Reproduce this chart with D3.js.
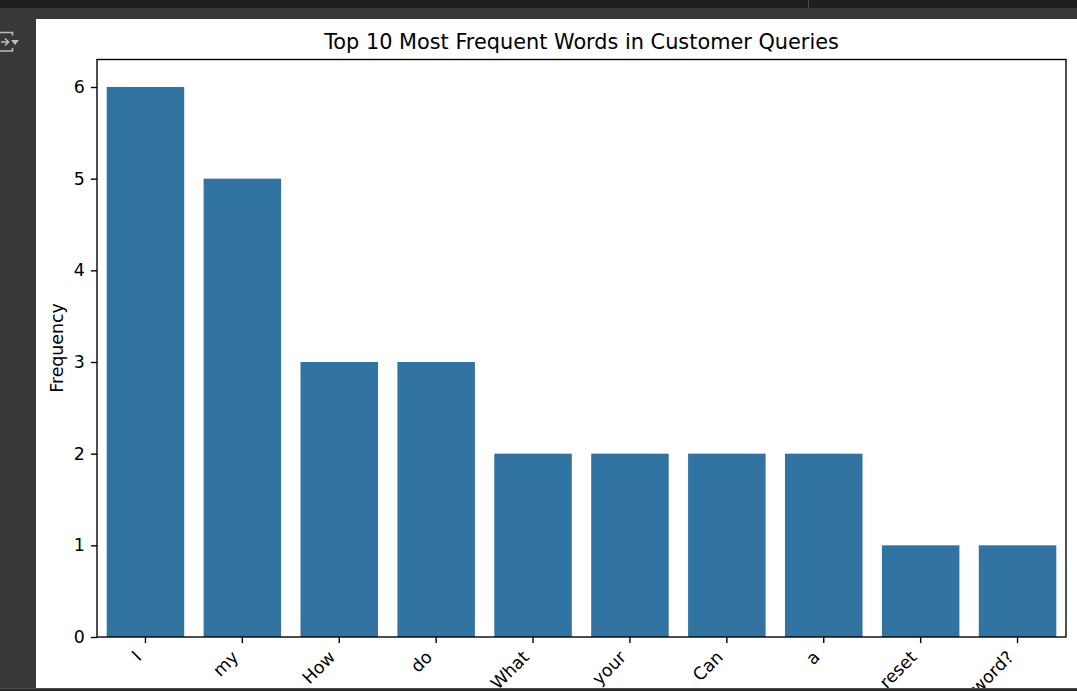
<!DOCTYPE html>
<html>
<head>
<meta charset="utf-8">
<script src="https://cdn.jsdelivr.net/npm/d3@7"></script>
<style>
  body { margin: 0; background: #383838; overflow: hidden; }
  svg { display: block; font-family: "DejaVu Sans", sans-serif; }
</style>
</head>
<body>
<svg id="chart" width="1077" height="691"></svg>
<script>
// dati
var words = ["I", "my", "How", "do", "What", "your", "Can", "a", "reset", "password?"];
var counts = [6, 5, 3, 3, 2, 2, 2, 2, 1, 1];
var yTicks = [0, 1, 2, 3, 4, 5, 6];
var titleText = "Top 10 Most Frequent Words in Customer Queries";
var yLabel = "Frequency";

var W = 1077, H = 691;
var pt = 125 / 72; // px per punto
var svg = d3.select("#chart");

// cornice scura tipo editor
svg.append("rect").attr("x", 0).attr("y", 0).attr("width", W).attr("height", H).attr("fill", "#383838");
svg.append("rect").attr("x", 0).attr("y", 0).attr("width", W).attr("height", 8).attr("fill", "#1f1f1f");
svg.append("line").attr("x1", 808.5).attr("x2", 808.5).attr("y1", 0).attr("y2", 8)
  .attr("stroke", "#4a4a4a").attr("stroke-width", 1);
svg.append("rect").attr("x", 0).attr("y", 688).attr("width", W).attr("height", 3).attr("fill", "#2b2b2b");
svg.append("rect").attr("x", 0).attr("y", 688).attr("width", W).attr("height", 1).attr("fill", "#4f4f4f");

// icona a sinistra
var icon = svg.append("g").attr("stroke", "#bdbdbd").attr("stroke-width", 1.6).attr("fill", "none");
icon.append("path").attr("d", "M0,32.5 H12.5 V35.5 M0,51 H12.5 V48");
icon.append("path").attr("d", "M1,42 H8 M5,38.5 L8.5,42 L5,45.5");
svg.append("path").attr("d", "M11,40 H19 L15,45 Z").attr("fill", "#bdbdbd");

// area bianca della figura
var clip = svg.append("clipPath").attr("id", "fig");
clip.append("rect").attr("x", 36).attr("y", 19).attr("width", W - 36).attr("height", 688 - 19);
svg.append("rect").attr("x", 36).attr("y", 19).attr("width", W - 36).attr("height", 688 - 19).attr("fill", "#ffffff");

var g = svg.append("g").attr("clip-path", "url(#fig)");

var mLeft = 97, mRight = 1066, mTop = 59.5, mBottom = 637;

var x = d3.scaleBand().domain(words).range([mLeft, mRight]).paddingInner(0.2).paddingOuter(0.1);
var y = d3.scaleLinear().domain([0, 6.3]).range([mBottom, mTop]);

// barre
g.selectAll(".bar")
  .data(words)
  .enter()
  .append("rect")
  .attr("class", "bar")
  .attr("x", function(d) { return x(d); })
  .attr("width", x.bandwidth())
  .attr("y", function(d, i) { return y(counts[i]); })
  .attr("height", function(d, i) { return y(0) - y(counts[i]); })
  .attr("fill", "#3274a1");

// asse y
var yAxis = g.append("g")
  .attr("transform", "translate(" + mLeft + ",0)")
  .call(d3.axisLeft(y).tickValues(yTicks).tickFormat(d3.format("d")).tickSize(6.1).tickPadding(6.1));
yAxis.select(".domain").remove();
yAxis.selectAll("line").attr("stroke", "#000").attr("stroke-width", 0.8 * pt);
yAxis.selectAll("text").attr("fill", "#000").style("font-size", (10 * pt) + "px")
  .style("font-family", "DejaVu Sans");

// asse x
var xAxis = g.append("g")
  .attr("transform", "translate(0," + mBottom + ")")
  .call(d3.axisBottom(x).tickSize(6.1).tickFormat(""));
xAxis.select(".domain").remove();
xAxis.selectAll("line").attr("stroke", "#000").attr("stroke-width", 0.8 * pt);

// etichette ruotate di 45 gradi
g.selectAll(".xlab")
  .data(words)
  .enter()
  .append("text")
  .attr("class", "xlab")
  .attr("transform", function(d) {
    var cx = x(d) + x.bandwidth() / 2;
    return "translate(" + (cx - 2.9) + "," + 658.3 + ") rotate(-45)";
  })
  .attr("text-anchor", "end")
  .style("font-size", (10 * pt) + "px")
  .attr("fill", "#000")
  .text(function(d) { return d; });

// cornice degli assi
g.append("rect")
  .attr("x", mLeft).attr("y", mTop)
  .attr("width", mRight - mLeft).attr("height", mBottom - mTop)
  .attr("fill", "none").attr("stroke", "#000").attr("stroke-width", 0.8 * pt);

// titolo
g.append("text")
  .attr("x", (mLeft + mRight) / 2)
  .attr("y", mTop - 6 * pt)
  .attr("text-anchor", "middle")
  .style("font-size", (12 * pt) + "px")
  .attr("fill", "#000")
  .text(titleText);

// etichetta asse y
g.append("text")
  .attr("transform", "translate(63,348) rotate(-90)")
  .attr("text-anchor", "middle")
  .style("font-size", (10 * pt) + "px")
  .attr("fill", "#000")
  .text(yLabel);
</script>
</body>
</html>
